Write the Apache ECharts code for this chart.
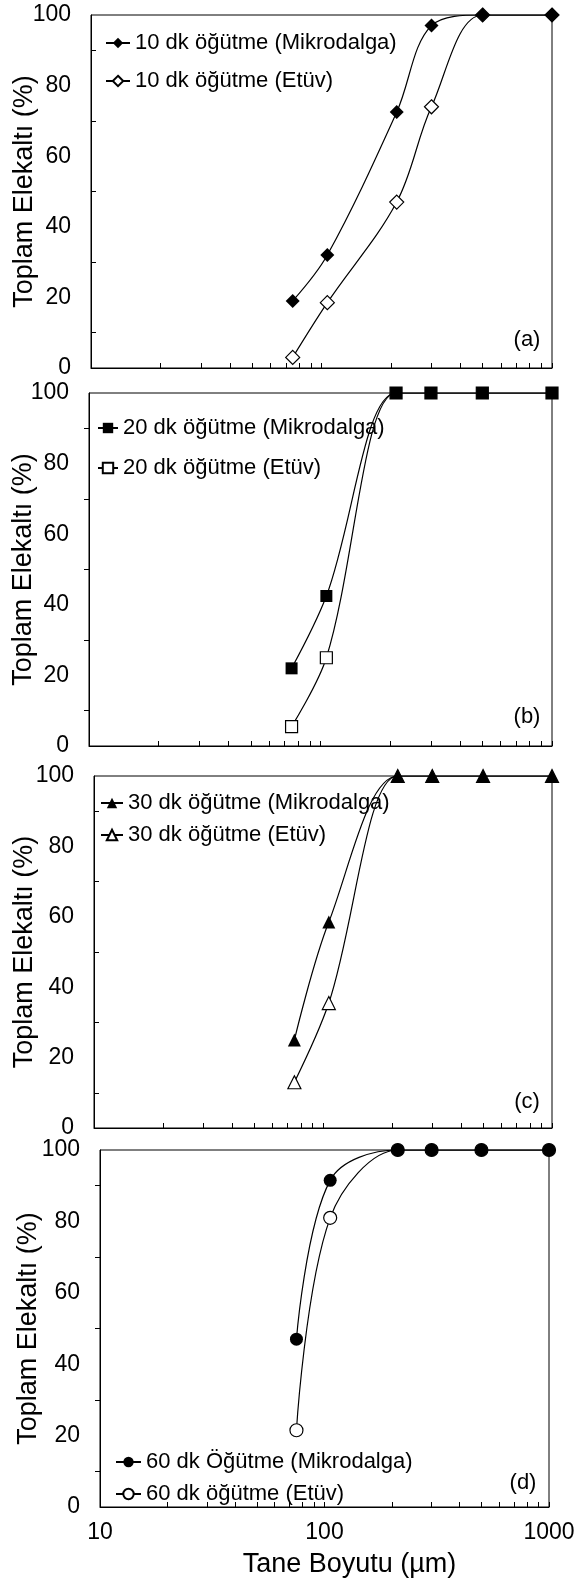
<!DOCTYPE html>
<html>
<head>
<meta charset="utf-8">
<script src="https://cdn.jsdelivr.net/npm/echarts@6/dist/echarts.min.js"></script>
<style>
html, body { margin: 0; padding: 0; background: #fff; }
#chart { width: 577px; height: 1583px; }
</style>
</head>
<body>
<div id="chart"></div>
<script>
// elek boyutlari (um)
const sizes = [75, 106, 212, 300, 500, 1000];

// toplam elekalti (%)
const mikro10 = [19, 32, 72.5, 97, 100, 100];
const etuv10 = [3, 18.5, 47, 74, 100, 100];
const mikro20 = [22, 42.5, 100, 100, 100, 100];
const etuv20 = [5.5, 25, 100, 100, 100, 100];
const mikro30 = [25, 58.5, 100, 100, 100, 100];
const etuv30 = [13, 35.5, 100, 100, 100, 100];
const mikro60 = [47, 91.5, 100, 100, 100, 100];
const etuv60 = [21.5, 81, 100, 100, 100, 100];

const xTicks = [10, 20, 30, 40, 50, 60, 70, 80, 90, 100, 200, 300, 400, 500, 600, 700, 800, 900, 1000];
const xLabels = [10, 100, 1000];
const yTicks = [0, 20, 40, 60, 80, 100];

const font = 'Liberation Sans, Arial, sans-serif';

const panels = [
    { grid: { left: 91, top: 15, width: 461, height: 353 }, tag: '(a)', tagPos: [527, 340],
      names: ['10 dk öğütme (Mikrodalga)', '10 dk öğütme (Etüv)'], data: [mikro10, etuv10],
      symbol: 'diamond', size: 14, legend: { left: 100, top: 27, itemWidth: 24, itemGap: 16 },
      nameGap: 53, tickInside: true },
    { grid: { left: 89, top: 393, width: 463, height: 353 }, tag: '(b)', tagPos: [527, 717],
      names: ['20 dk öğütme (Mikrodalga)', '20 dk öğütme (Etüv)'], data: [mikro20, etuv20],
      symbol: 'rect', size: 12, legend: { left: 92, top: 412, itemWidth: 20, itemGap: 18 },
      nameGap: 52, tickInside: false },
    { grid: { left: 94, top: 776, width: 458, height: 352 }, tag: '(c)', tagPos: [527, 1102],
      names: ['30 dk öğütme (Mikrodalga)', '30 dk öğütme (Etüv)'], data: [mikro30, etuv30],
      symbol: 'triangle', size: 13, legend: { left: 95, top: 787, itemWidth: 22, itemGap: 10 },
      nameGap: 56, tickInside: true },
    { grid: { left: 100, top: 1150, width: 449, height: 357 }, tag: '(d)', tagPos: [523, 1483],
      names: ['60 dk Öğütme (Mikrodalga)', '60 dk öğütme (Etüv)'], data: [mikro60, etuv60],
      symbol: 'circle', size: 13, legend: { left: 110, top: 1446, itemWidth: 25, itemGap: 10 },
      nameGap: 58, tickInside: false }
];

const grid = [], xAxis = [], yAxis = [], series = [], legend = [], graphic = [];

panels.forEach((p, i) => {
    const last = i === panels.length - 1;
    grid.push(Object.assign({
        show: true, borderColor: '#000', borderWidth: 1, backgroundColor: 'transparent',
        containLabel: false, outerBoundsMode: 'none'
    }, p.grid));

    xAxis.push({
        type: 'log', logBase: 10, min: 10, max: 1000, gridIndex: i,
        axisLine: { lineStyle: { color: '#000', width: 1 } },
        axisTick: { inside: true, length: 5, customValues: xTicks, lineStyle: { color: '#000' } },
        axisLabel: { show: last, fontSize: 23, fontFamily: font, color: '#000', margin: 14,
            customValues: xLabels,
            formatter: v => String(Math.round(v)) },
        splitLine: { show: false },
        name: last ? 'Tane Boyutu (µm)' : '',
        nameLocation: 'middle', nameGap: 44, nameMoveOverlap: false,
        nameTextStyle: { fontSize: 27, fontFamily: font, color: '#000', padding: [0, 0, 0, 50] }
    });

    yAxis.push({
        type: 'value', min: 0, max: 100, interval: 20, gridIndex: i,
        axisLine: { show: true, lineStyle: { color: '#000', width: 1 } },
        axisTick: { show: false, inside: p.tickInside },
        minorTick: { show: true, splitNumber: 2, length: 5, lineStyle: { color: '#000' } },
        axisLabel: { fontSize: 23, fontFamily: font, color: '#000', margin: 20,
            customValues: yTicks },
        splitLine: { show: false },
        name: 'Toplam Elekaltı (%)', nameLocation: 'middle', nameGap: p.nameGap,
        nameMoveOverlap: false,
        nameTextStyle: { fontSize: 27, fontFamily: font, color: '#000' }
    });

    p.data.forEach((vals, k) => {
        const filled = k === 0;
        series.push({
            name: p.names[k], type: 'line', xAxisIndex: i, yAxisIndex: i,
            data: sizes.map((s, j) => [s, vals[j]]),
            smooth: 0.35,
            symbol: p.symbol, symbolSize: p.size,
            lineStyle: { color: '#000', width: 1.2 },
            itemStyle: { color: filled ? '#000' : '#fff', borderColor: '#000', borderWidth: filled ? 0 : 1.2 },
            z: filled ? 3 : 2
        });
    });

    legend.push(Object.assign({
        orient: 'vertical', data: p.names, itemHeight: 13,
        textStyle: { fontSize: 22, fontFamily: font, color: '#000' },
        selectedMode: false
    }, p.legend));

    graphic.push({
        type: 'text', x: p.tagPos[0], y: p.tagPos[1],
        style: { text: p.tag, fontSize: 22, fontFamily: font, fill: '#000', align: 'center', verticalAlign: 'middle' }
    });
});

const myChart = echarts.init(document.getElementById('chart'));
myChart.setOption({
    animation: false,
    backgroundColor: '#fff',
    grid, xAxis, yAxis, series, legend, graphic
});
</script>
</body>
</html>
